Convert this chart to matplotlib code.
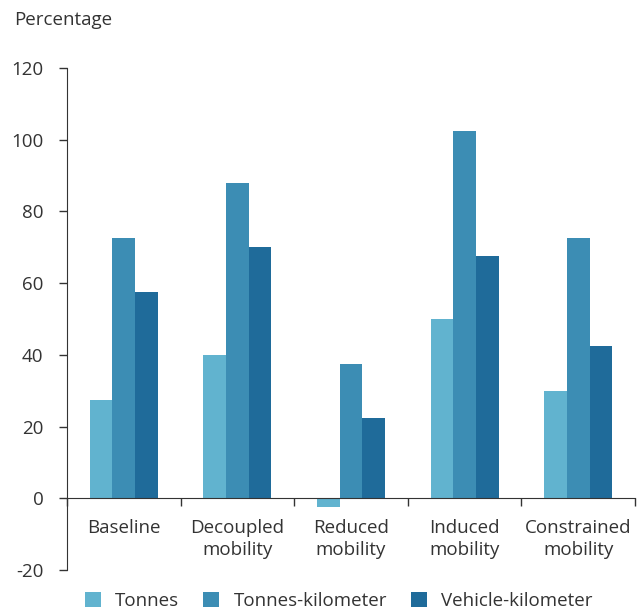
import matplotlib
matplotlib.use("Agg")
import matplotlib.pyplot as plt
import numpy as np

plt.rcParams['font.family'] = ['Open Sans', 'DejaVu Sans']
plt.rcParams['font.size'] = 13.5
plt.rcParams['axes.unicode_minus'] = False
plt.rcParams['text.color'] = '#333333'
plt.rcParams['xtick.color'] = '#333333'
plt.rcParams['ytick.color'] = '#333333'

# Data
categories = ['Baseline', 'Decoupled\nmobility', 'Reduced\nmobility',
              'Induced\nmobility', 'Constrained\nmobility']
tonnes = [27.5, 40, -2.5, 50, 30]
tonnes_km = [72.5, 88, 37.5, 102.5, 72.5]
vehicle_km = [57.5, 70, 22.5, 67.5, 42.5]
series_names = ['Tonnes', 'Tonnes-kilometer', 'Vehicle-kilometer']
colors = ['#61b3cf', '#3c8db4', '#1f6b9a']

fig = plt.figure(figsize=(6.43, 6.12), dpi=100)
ax = fig.add_axes([0.1042, 0.0686, 0.8834, 0.8203])

x = np.arange(len(categories))
w = 0.2
for i, (vals, name, c) in enumerate(zip([tonnes, tonnes_km, vehicle_km], series_names, colors)):
    ax.bar(x + (i - 1) * w, vals, w, color=c, label=name, edgecolor='none')

ax.set_xlim(-0.5, len(categories) - 0.5)
ax.set_ylim(-20, 120)
ax.set_yticks(np.arange(-20, 121, 20))

for s in ['top', 'right']:
    ax.spines[s].set_visible(False)
ax.spines['bottom'].set_position(('data', 0))
ax.spines['bottom'].set_color('#333333')
ax.spines['left'].set_color('#333333')

# boundaries get the tick marks, centres get the labels
ax.set_xticks(np.arange(-0.5, len(categories), 1.0))
ax.set_xticklabels([])
ax.set_xticks(x, minor=True)
ax.set_xticklabels(categories, minor=True, linespacing=1.25)
ax.tick_params(axis='x', which='major', direction='out', length=6, width=1)
ax.tick_params(axis='x', which='minor', length=0, pad=15)
ax.tick_params(axis='y', direction='out', length=6, width=1, pad=11)

fig.text(0.022, 0.967, 'Percentage', ha='left', va='center', fontsize=13.5)

fig.legend(loc='center left', bbox_to_anchor=(0.132, 0.018), ncol=3, frameon=False,
           handlelength=0.85, handleheight=0.85, handletextpad=0.75, columnspacing=1.3,
           borderaxespad=0, borderpad=0)

fig.savefig('out.png', dpi=100)
